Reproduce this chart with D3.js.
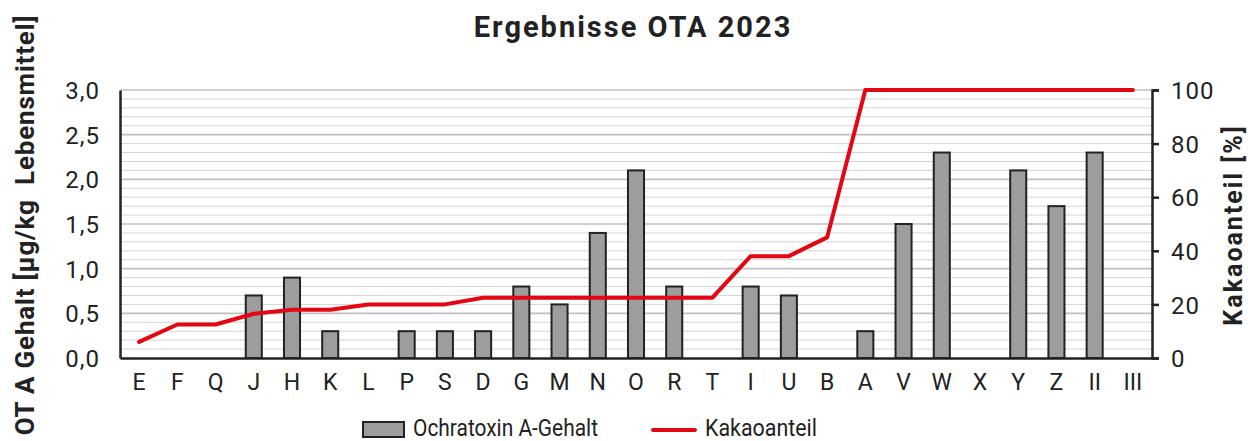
<!DOCTYPE html>
<html>
<head>
<meta charset="utf-8">
<script src="https://cdn.jsdelivr.net/npm/d3@7"></script>
<style>
  body { margin: 0; background: #fff; }
  text { font-family: Roboto, "Liberation Sans", sans-serif; fill: #222; }
</style>
</head>
<body>
<div id="chart"></div>
<script>
var categories = ['E', 'F', 'Q', 'J', 'H', 'K', 'L', 'P', 'S', 'D', 'G', 'M', 'N', 'O',
    'R', 'T', 'I', 'U', 'B', 'A', 'V', 'W', 'X', 'Y', 'Z', 'II', 'III'];
// Ochratoxin A-Gehalt [µg/kg Lebensmittel]
var otaValues = [0, 0, 0, 0.7, 0.9, 0.3, 0, 0.3, 0.3, 0.3, 0.8, 0.6, 1.4, 2.1,
    0.8, 0, 0.8, 0.7, 0, 0.3, 1.5, 2.3, 0, 2.1, 1.7, 2.3, 0];
// Kakaoanteil [%]
var cocoaValues = [6, 12.5, 12.5, 16.5, 18, 18, 20, 20, 20, 22.5, 22.5, 22.5, 22.5, 22.5,
    22.5, 22.5, 38, 38, 45, 100, 100, 100, 100, 100, 100, 100, 100];
var leftTicks = [0, 0.5, 1, 1.5, 2, 2.5, 3];
var rightTicks = [0, 20, 40, 60, 80, 100];

var width = 1248;
var height = 441;
var margin = {top: 90, bottom: 83, left: 120, right: 96};
var red = '#e30613';

var svg = d3.select('#chart').append('svg')
    .attr('width', width)
    .attr('height', height);

var xScale = d3.scaleBand().domain(categories)
    .range([margin.left, width - margin.right]).paddingInner(0.58).paddingOuter(0.29);
var yLeft = d3.scaleLinear().domain([0, 3]).range([height - margin.bottom, margin.top]);
var yRight = d3.scaleLinear().domain([0, 100]).range([height - margin.bottom, margin.top]);

var fmt = function (d) { return d3.format('.1f')(d).replace('.', ','); };

// gridlines: minor every 0.1, major every 0.5
var grid = svg.append('g').attr('class', 'grid');
grid.selectAll('line.minor')
    .data(d3.range(1, 30).map(function (i) { return i / 10; }).filter(function (v, i) { return (i + 1) % 5 !== 0; }))
    .enter().append('line')
    .attr('x1', margin.left).attr('x2', width - margin.right)
    .attr('y1', function (d) { return yLeft(d); }).attr('y2', function (d) { return yLeft(d); })
    .attr('stroke', '#d4d4d4').attr('stroke-width', 1);
grid.selectAll('line.major')
    .data(leftTicks.slice(1))
    .enter().append('line')
    .attr('x1', margin.left).attr('x2', width - margin.right)
    .attr('y1', function (d) { return yLeft(d); }).attr('y2', function (d) { return yLeft(d); })
    .attr('stroke', '#c0c0c0').attr('stroke-width', 1.6);

// bars
svg.append('g').selectAll('rect')
    .data(otaValues.map(function (v, i) { return {key: categories[i], value: v}; })
        .filter(function (d) { return d.value > 0; }))
    .enter().append('rect')
    .attr('x', function (d) { return xScale(d.key); })
    .attr('y', function (d) { return yLeft(d.value); })
    .attr('width', xScale.bandwidth())
    .attr('height', function (d) { return yLeft(0) - yLeft(d.value); })
    .attr('fill', '#9d9d9c')
    .attr('stroke', '#222')
    .attr('stroke-width', 2);

// cocoa line
var line = d3.line()
    .x(function (d, i) { return xScale(categories[i]) + xScale.bandwidth() / 2; })
    .y(function (d) { return yRight(d); });
svg.append('path')
    .datum(cocoaValues)
    .attr('d', line)
    .attr('fill', 'none')
    .attr('stroke', red)
    .attr('stroke-width', 4)
    .attr('stroke-linecap', 'round')
    .attr('stroke-linejoin', 'round');

// axes
var leftAxis = svg.append('g')
    .attr('transform', 'translate(' + margin.left + ',0)')
    .call(d3.axisLeft(yLeft).tickValues(leftTicks).tickFormat(fmt).tickSize(0).tickPadding(20));
leftAxis.select('.domain').attr('stroke', '#222').attr('stroke-width', 2.5);
leftAxis.selectAll('text').style('font-size', '24px').style('letter-spacing', '1px')
    .attr('dy', '0.36em').attr('fill', '#222');

var rightAxis = svg.append('g')
    .attr('transform', 'translate(' + (width - margin.right) + ',0)')
    .call(d3.axisRight(yRight).tickValues(rightTicks).tickSizeInner(7).tickSizeOuter(7).tickPadding(12));
rightAxis.select('.domain').attr('stroke', '#222').attr('stroke-width', 2.5);
rightAxis.selectAll('.tick line').attr('stroke', '#222').attr('stroke-width', 2.5);
rightAxis.selectAll('text').style('font-size', '24px').style('letter-spacing', '1px')
    .attr('dy', '0.36em').attr('fill', '#222');

var bottomAxis = svg.append('g')
    .attr('transform', 'translate(0,' + (height - margin.bottom) + ')')
    .call(d3.axisBottom(xScale).tickSize(0).tickPadding(16));
bottomAxis.select('.domain').attr('stroke', '#222').attr('stroke-width', 2.5);
bottomAxis.selectAll('text').style('font-size', '23px').attr('fill', '#222');

// title
svg.append('text')
    .attr('x', 633).attr('y', 37)
    .attr('text-anchor', 'middle')
    .style('font-size', '29px').style('font-weight', 'bold').style('letter-spacing', '2px')
    .text('Ergebnisse OTA 2023');

// axis titles
svg.append('text')
    .attr('transform', 'translate(34,225) rotate(-90)')
    .attr('text-anchor', 'middle')
    .style('font-size', '26px').style('font-weight', 'bold').style('letter-spacing', '0.8px')
    .style('white-space', 'pre')
    .text('OT A Gehalt [µg/kg  Lebensmittel]');
svg.append('text')
    .attr('transform', 'translate(1242,225) rotate(-90)')
    .attr('text-anchor', 'middle')
    .style('font-size', '25px').style('font-weight', 'bold').style('letter-spacing', '2px')
    .text('Kakaoanteil [%]');

// legend
var legend = svg.append('g');
legend.append('rect')
    .attr('x', 363).attr('y', 422).attr('width', 41).attr('height', 15)
    .attr('fill', '#9d9d9c').attr('stroke', '#222').attr('stroke-width', 2);
legend.append('text')
    .attr('x', 413).attr('y', 436)
    .attr('textLength', 185).attr('lengthAdjust', 'spacingAndGlyphs')
    .style('font-size', '24px')
    .text('Ochratoxin A-Gehalt');
legend.append('line')
    .attr('x1', 653).attr('x2', 695).attr('y1', 430).attr('y2', 430)
    .attr('stroke', red).attr('stroke-width', 4).attr('stroke-linecap', 'round');
legend.append('text')
    .attr('x', 705).attr('y', 436)
    .attr('textLength', 112).attr('lengthAdjust', 'spacingAndGlyphs')
    .style('font-size', '24px')
    .text('Kakaoanteil');
</script>
</body>
</html>
